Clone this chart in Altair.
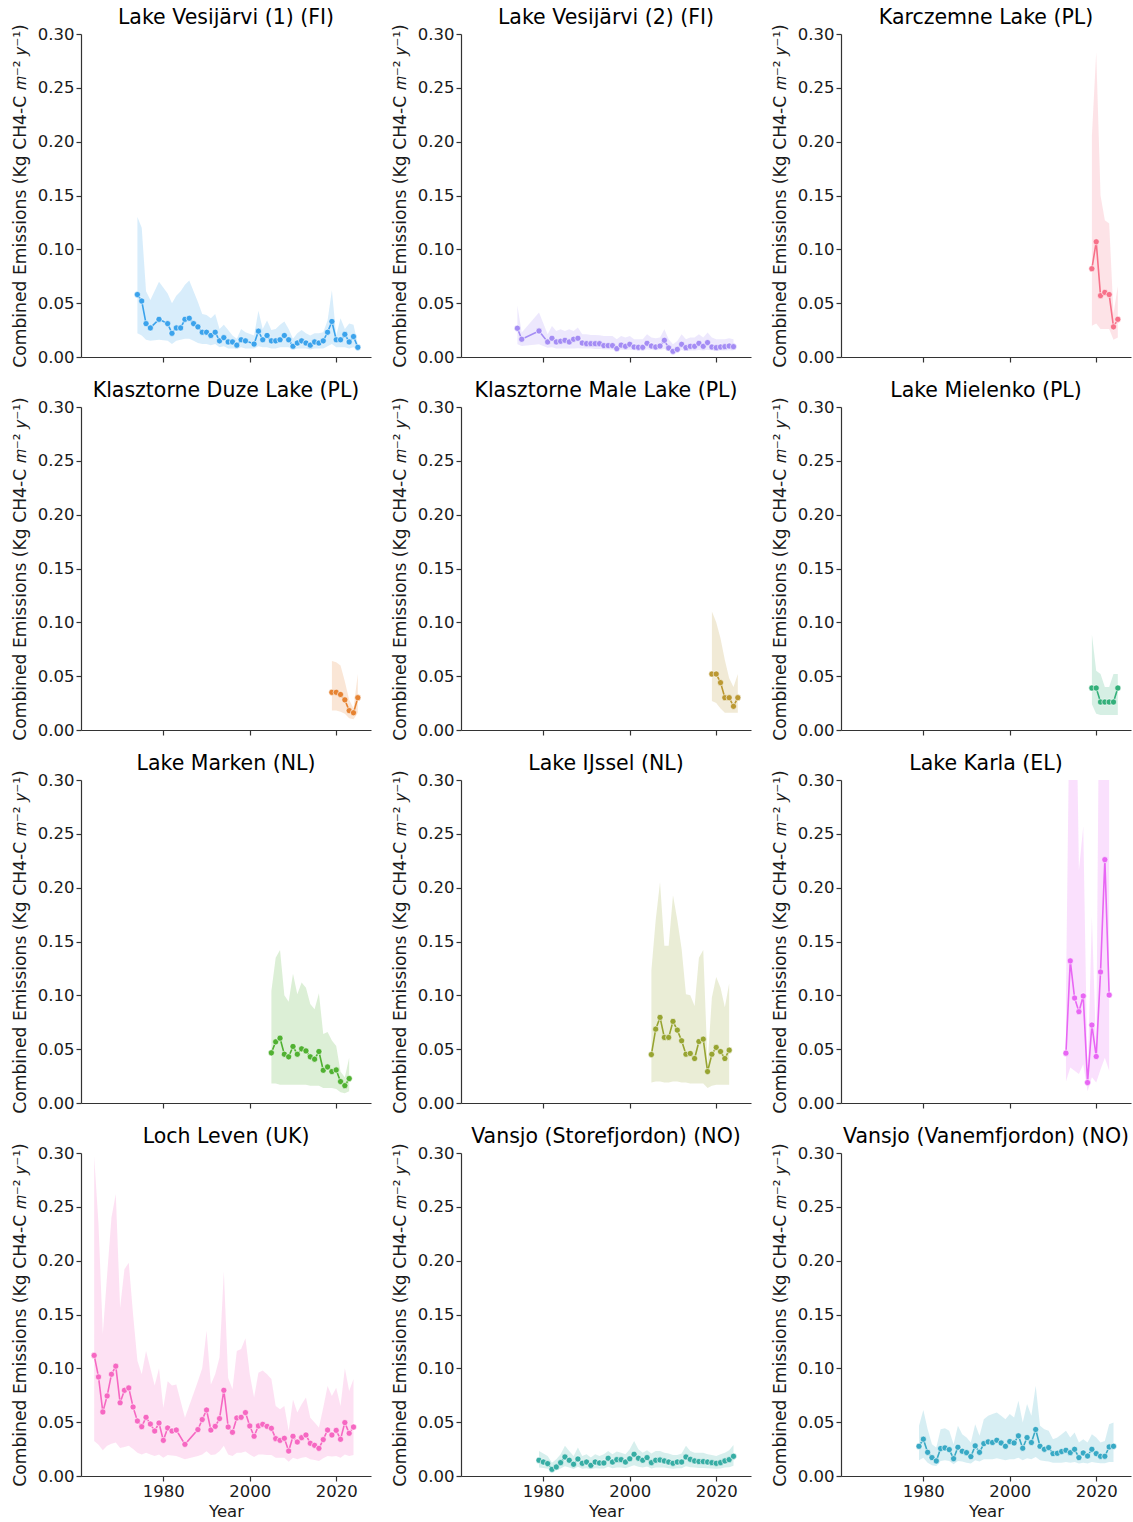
import altair as alt
import pandas as pd

FONT = "DejaVu Sans"

TITLES = [
    "Lake Vesijärvi (1) (FI)", "Lake Vesijärvi (2) (FI)", "Karczemne Lake (PL)",
    "Klasztorne Duze Lake (PL)", "Klasztorne Male Lake (PL)", "Lake Mielenko (PL)",
    "Lake Marken (NL)", "Lake IJssel (NL)", "Lake Karla (EL)",
    "Loch Leven (UK)", "Vansjo (Storefjordon) (NO)", "Vansjo (Vanemfjordon) (NO)",
]
COLORS = ["#3ba3ec", "#a48cf4", "#f77189", "#e68332", "#bb9832", "#33b07a",
          "#50b131", "#97a431", "#e866f4", "#f668c2", "#36ada4", "#38a9c5"]

X_TICKS = [1980, 2000, 2020]
Y_TICKS = [0.0, 0.05, 0.10, 0.15, 0.20, 0.25, 0.30]
Y_TITLE = "Combined Emissions (Kg CH4-C 𝑚⁻² 𝑦⁻¹)"

# 1 Lake Vesijärvi (1)
VES1_YEARS = [1974, 1975, 1976, 1977, 1979] + list(range(1981, 2000)) + list(range(2001, 2026))
VES1_MEAN = [0.058, 0.052, 0.031, 0.027, 0.035,
             0.031, 0.022, 0.027, 0.027, 0.035, 0.036, 0.031, 0.028, 0.023, 0.023,
             0.020, 0.023, 0.015, 0.018, 0.014, 0.014, 0.011, 0.016, 0.015,
             0.012, 0.024, 0.016, 0.020, 0.015, 0.015, 0.016, 0.020, 0.016, 0.010,
             0.013, 0.015, 0.013, 0.011, 0.014, 0.013, 0.015, 0.023, 0.033, 0.016,
             0.016, 0.021, 0.014, 0.019, 0.009]
VES1_HI = [0.130, 0.120, 0.061, 0.053, 0.070,
           0.059, 0.050, 0.057, 0.061, 0.067, 0.071, 0.061, 0.051, 0.040, 0.039,
           0.036, 0.040, 0.026, 0.030, 0.025, 0.020, 0.017, 0.026, 0.023,
           0.020, 0.043, 0.026, 0.034, 0.025, 0.026, 0.030, 0.033, 0.026, 0.017,
           0.022, 0.025, 0.022, 0.020, 0.022, 0.022, 0.023, 0.034, 0.062, 0.020,
           0.036, 0.026, 0.031, 0.030, 0.012]
VES1_LO = [0.022, 0.020, 0.016, 0.015, 0.016,
           0.015, 0.012, 0.015, 0.016, 0.017, 0.017, 0.015, 0.013, 0.012, 0.012,
           0.011, 0.012, 0.009, 0.010, 0.008, 0.008, 0.008, 0.009, 0.008,
           0.008, 0.010, 0.009, 0.009, 0.008, 0.008, 0.009, 0.009, 0.009, 0.007,
           0.008, 0.008, 0.008, 0.007, 0.008, 0.008, 0.008, 0.010, 0.012, 0.009,
           0.009, 0.009, 0.008, 0.009, 0.006]

# 2 Lake Vesijärvi (2)
VES2_YEARS = [1974, 1975, 1979] + list(range(1981, 2025))
VES2_MEAN = [0.0267, 0.0165, 0.0242,
             0.0140, 0.0174, 0.0140, 0.0146, 0.0155, 0.0140, 0.0165, 0.0174, 0.0130, 0.0124,
             0.0124, 0.0124, 0.0124, 0.0106, 0.0106, 0.0106, 0.0078, 0.0110, 0.0099, 0.0118,
             0.0093, 0.0090, 0.0090, 0.0127, 0.0102, 0.0093, 0.0102, 0.0155, 0.0084, 0.0053,
             0.0071, 0.0118, 0.0087, 0.0099, 0.0099, 0.0127, 0.0099, 0.0134, 0.0093, 0.0087,
             0.0093, 0.0096, 0.0102, 0.0096]
VES2_HI = [0.0475, 0.0227, 0.0413,
           0.0211, 0.0289, 0.0242, 0.0258, 0.0242, 0.0258, 0.0242, 0.0273, 0.0211, 0.0211,
           0.0205, 0.0205, 0.0202, 0.0196, 0.0196, 0.0196, 0.0165, 0.0196, 0.0180, 0.0196,
           0.0165, 0.0165, 0.0165, 0.0211, 0.0180, 0.0174, 0.0180, 0.0258, 0.0165, 0.0118,
           0.0149, 0.0211, 0.0165, 0.0180, 0.0180, 0.0211, 0.0180, 0.0227, 0.0180, 0.0165,
           0.0165, 0.0165, 0.0174, 0.0165]
VES2_LO = [0.0118, 0.0102, 0.0118,
           0.0087, 0.0090, 0.0080, 0.0080, 0.0080, 0.0080, 0.0080, 0.0082, 0.0078, 0.0078,
           0.0078, 0.0075, 0.0075, 0.0070, 0.0070, 0.0068, 0.0062, 0.0068, 0.0065, 0.0068,
           0.0062, 0.0062, 0.0062, 0.0070, 0.0065, 0.0062, 0.0065, 0.0075, 0.0056, 0.0031,
           0.0050, 0.0065, 0.0056, 0.0060, 0.0060, 0.0065, 0.0060, 0.0068, 0.0060, 0.0058,
           0.0060, 0.0060, 0.0062, 0.0060]

# 3 Karczemne
KAR_YEARS = list(range(2019, 2026))
KAR_MEAN = [0.082, 0.107, 0.057, 0.060, 0.058, 0.028, 0.035]
KAR_HI = [0.205, 0.283, 0.150, 0.127, 0.124, 0.040, 0.066]
KAR_LO = [0.029, 0.031, 0.026, 0.026, 0.026, 0.016, 0.018]

# 4 Klasztorne Duze
KDU_YEARS = list(range(2019, 2026))
KDU_MEAN = [0.035, 0.035, 0.033, 0.028, 0.018, 0.016, 0.030]
KDU_HI = [0.064, 0.063, 0.060, 0.045, 0.028, 0.020, 0.052]
KDU_LO = [0.018, 0.018, 0.017, 0.015, 0.011, 0.010, 0.016]

# 5 Klasztorne Male
KMA_YEARS = list(range(2019, 2026))
KMA_MEAN = [0.052, 0.052, 0.044, 0.030, 0.030, 0.022, 0.030]
KMA_HI = [0.110, 0.100, 0.085, 0.065, 0.048, 0.040, 0.052]
KMA_LO = [0.027, 0.025, 0.020, 0.016, 0.016, 0.016, 0.016]

# 6 Mielenko
MIE_YEARS = list(range(2019, 2026))
MIE_MEAN = [0.039, 0.039, 0.026, 0.026, 0.026, 0.026, 0.039]
MIE_HI = [0.089, 0.055, 0.052, 0.040, 0.040, 0.052, 0.052]
MIE_LO = [0.024, 0.015, 0.014, 0.014, 0.014, 0.014, 0.014]

# 7 Marken
MAR_YEARS = list(range(2005, 2024))
MAR_MEAN = [0.0466, 0.0568, 0.0602, 0.0453, 0.0429, 0.0525, 0.0453, 0.0503, 0.0484, 0.0429,
            0.0407, 0.0478, 0.0304, 0.0335, 0.0292, 0.0307, 0.0199, 0.0161, 0.0227]
MAR_HI = [0.104, 0.135, 0.142, 0.100, 0.094, 0.120, 0.101, 0.112, 0.107, 0.092,
          0.087, 0.102, 0.064, 0.066, 0.058, 0.053, 0.029, 0.024, 0.042]
MAR_LO = [0.018, 0.018, 0.017, 0.017, 0.017, 0.017, 0.017, 0.017, 0.017, 0.016,
          0.016, 0.016, 0.014, 0.014, 0.014, 0.013, 0.010, 0.009, 0.011]

# 8 IJssel
IJS_YEARS = list(range(2005, 2024))
IJS_MEAN = [0.0450, 0.0686, 0.0795, 0.0609, 0.0609, 0.0758, 0.0677, 0.0578, 0.0453, 0.0460,
            0.0413, 0.0571, 0.0593, 0.0292, 0.0453, 0.0516, 0.0478, 0.0413, 0.0491]
IJS_HI = [0.123, 0.170, 0.205, 0.146, 0.146, 0.193, 0.170, 0.143, 0.101, 0.100,
          0.090, 0.135, 0.142, 0.036, 0.098, 0.117, 0.107, 0.089, 0.111]
IJS_LO = [0.019, 0.020, 0.020, 0.019, 0.019, 0.020, 0.020, 0.019, 0.019, 0.018,
          0.018, 0.018, 0.018, 0.014, 0.016, 0.017, 0.017, 0.017, 0.017]

# 9 Karla
KRL_YEARS = list(range(2013, 2024))
KRL_MEAN = [0.0463, 0.132, 0.0975, 0.0848, 0.0994, 0.019, 0.0724, 0.0432, 0.1217, 0.226, 0.1003]
KRL_HI = [0.100, 0.430, 0.490, 0.216, 0.257, 0.022, 0.173, 0.047, 0.550, 0.700, 0.450]
KRL_LO = [0.020, 0.033, 0.030, 0.027, 0.036, 0.011, 0.024, 0.019, 0.031, 0.042, 0.030]

# 10 Loch Leven
LOC_YEARS = list(range(1964, 1984)) + [1985] + list(range(1988, 2025))
LOC_MEAN = [0.112, 0.092, 0.0595, 0.0744, 0.0945, 0.102, 0.068, 0.0796, 0.0818, 0.0641,
            0.0511, 0.0458, 0.0545, 0.0483, 0.0418, 0.0492, 0.0331, 0.0446, 0.0418, 0.0427,
            0.0294,
            0.0431, 0.0524, 0.0613, 0.0427, 0.0461, 0.0533, 0.0796, 0.0455, 0.0406, 0.0539,
            0.0545, 0.0589, 0.0465, 0.0369, 0.0465, 0.0480, 0.0461, 0.0443, 0.0347, 0.0331,
            0.0350, 0.0232, 0.0369, 0.0316, 0.0356, 0.0381, 0.0304, 0.0285, 0.0257, 0.0338,
            0.0427, 0.0381, 0.0424, 0.0341, 0.0496, 0.0397, 0.0455]
LOC_HI = [0.297, 0.234, 0.132, 0.187, 0.240, 0.262, 0.156, 0.192, 0.198, 0.150,
          0.107, 0.0945, 0.116, 0.100, 0.084, 0.100, 0.0635, 0.088, 0.084, 0.085,
          0.054,
          0.088, 0.100, 0.135, 0.085, 0.0945, 0.110, 0.190, 0.091, 0.0805, 0.116,
          0.118, 0.128, 0.0945, 0.073, 0.096, 0.098, 0.0945, 0.090, 0.065, 0.062,
          0.065, 0.0418, 0.071, 0.059, 0.0666, 0.0728, 0.054, 0.0496, 0.045, 0.0635,
          0.0836, 0.0743, 0.082, 0.065, 0.100, 0.079, 0.090]
LOC_LO = [0.0325, 0.029, 0.024, 0.028, 0.030, 0.031, 0.026, 0.027, 0.028, 0.025,
          0.0217, 0.020, 0.0217, 0.020, 0.0186, 0.020, 0.017, 0.0195, 0.019, 0.0186,
          0.0155,
          0.0186, 0.020, 0.023, 0.0195, 0.020, 0.023, 0.028, 0.020, 0.0186, 0.0217,
          0.0217, 0.0227, 0.020, 0.0177, 0.020, 0.020, 0.0195, 0.0195, 0.017, 0.017,
          0.017, 0.0133, 0.017, 0.0155, 0.017, 0.0177, 0.0155, 0.0149, 0.014, 0.0165,
          0.0186, 0.018, 0.0186, 0.017, 0.020, 0.0186, 0.0195]

# 11 Vansjo (Storefjordon)
STO_YEARS = list(range(1979, 2025))
STO_MEAN = [0.0146, 0.0130, 0.0115, 0.0062, 0.0084, 0.0124, 0.0177, 0.0146, 0.0109, 0.0158,
            0.0118, 0.0130, 0.0099, 0.0130, 0.0121, 0.0121, 0.0165, 0.0130, 0.0152, 0.0152,
            0.0130, 0.0160, 0.0202, 0.0165, 0.0146, 0.0171, 0.0124, 0.0146, 0.0149, 0.0140,
            0.0130, 0.0118, 0.0130, 0.0130, 0.0177, 0.0155, 0.0140, 0.0134, 0.0134, 0.0130,
            0.0124, 0.0118, 0.0124, 0.0140, 0.0152, 0.0183]
STO_HI = [0.0233, 0.0208, 0.0186, 0.0124, 0.0155, 0.0202, 0.0280, 0.0233, 0.0186, 0.0264,
          0.0186, 0.0202, 0.0171, 0.0202, 0.0186, 0.0202, 0.0233, 0.0202, 0.0227, 0.0217,
          0.0202, 0.0248, 0.0326, 0.0248, 0.0217, 0.0239, 0.0208, 0.0233, 0.0233, 0.0217,
          0.0208, 0.0196, 0.0196, 0.0208, 0.0280, 0.0233, 0.0217, 0.0217, 0.0217, 0.0202,
          0.0196, 0.0186, 0.0202, 0.0217, 0.0239, 0.0289]
STO_LO = [0.0080, 0.0075, 0.0068, 0.0047, 0.0050, 0.0070, 0.0090, 0.0080, 0.0065, 0.0085,
          0.0068, 0.0072, 0.0062, 0.0072, 0.0070, 0.0070, 0.0085, 0.0072, 0.0080, 0.0080,
          0.0072, 0.0085, 0.0100, 0.0085, 0.0080, 0.0088, 0.0070, 0.0080, 0.0080, 0.0078,
          0.0072, 0.0068, 0.0072, 0.0072, 0.0090, 0.0082, 0.0078, 0.0075, 0.0075, 0.0072,
          0.0070, 0.0068, 0.0070, 0.0078, 0.0082, 0.0095]

# 12 Vansjo (Vanemfjordon)
VAN_YEARS = list(range(1979, 2025))
VAN_MEAN = [0.0276, 0.0342, 0.0220, 0.0171, 0.0140, 0.0255, 0.0261, 0.0245, 0.0161, 0.0267,
            0.0230, 0.0217, 0.0180, 0.0280, 0.0220, 0.0301, 0.0317, 0.0311, 0.0332, 0.0307,
            0.0276, 0.0320, 0.0307, 0.0373, 0.0258, 0.0357, 0.0311, 0.0432, 0.0276, 0.0248,
            0.0264, 0.0208, 0.0211, 0.0227, 0.0239, 0.0217, 0.0248, 0.0171, 0.0214, 0.0186,
            0.0248, 0.0208, 0.0183, 0.0183, 0.0270, 0.0276]
VAN_HI = [0.0466, 0.0612, 0.0435, 0.0295, 0.0264, 0.0435, 0.0444, 0.0420, 0.0295, 0.0466,
          0.0388, 0.0357, 0.0310, 0.0480, 0.0373, 0.0528, 0.0560, 0.0575, 0.0590, 0.0560,
          0.0528, 0.0575, 0.0544, 0.0700, 0.0497, 0.0668, 0.0560, 0.0839, 0.0466, 0.0435,
          0.0420, 0.0342, 0.0357, 0.0388, 0.0420, 0.0357, 0.0404, 0.0310, 0.0342, 0.0310,
          0.0388, 0.0357, 0.0310, 0.0326, 0.0480, 0.0497]
VAN_LO = [0.0146, 0.0170, 0.0124, 0.0100, 0.0093, 0.0140, 0.0146, 0.0140, 0.0110, 0.0140,
          0.0134, 0.0124, 0.0115, 0.0146, 0.0134, 0.0155, 0.0155, 0.0155, 0.0165, 0.0155,
          0.0146, 0.0155, 0.0155, 0.0170, 0.0146, 0.0165, 0.0155, 0.0177, 0.0146, 0.0140,
          0.0134, 0.0124, 0.0124, 0.0124, 0.0130, 0.0124, 0.0130, 0.0115, 0.0124, 0.0115,
          0.0130, 0.0124, 0.0118, 0.0118, 0.0130, 0.0130]

SERIES = [
    (VES1_YEARS, VES1_MEAN, VES1_LO, VES1_HI),
    (VES2_YEARS, VES2_MEAN, VES2_LO, VES2_HI),
    (KAR_YEARS, KAR_MEAN, KAR_LO, KAR_HI),
    (KDU_YEARS, KDU_MEAN, KDU_LO, KDU_HI),
    (KMA_YEARS, KMA_MEAN, KMA_LO, KMA_HI),
    (MIE_YEARS, MIE_MEAN, MIE_LO, MIE_HI),
    (MAR_YEARS, MAR_MEAN, MAR_LO, MAR_HI),
    (IJS_YEARS, IJS_MEAN, IJS_LO, IJS_HI),
    (KRL_YEARS, KRL_MEAN, KRL_LO, KRL_HI),
    (LOC_YEARS, LOC_MEAN, LOC_LO, LOC_HI),
    (STO_YEARS, STO_MEAN, STO_LO, STO_HI),
    (VAN_YEARS, VAN_MEAN, VAN_LO, VAN_HI),
]

W, H = 290, 323
XS = alt.Scale(domain=[1960.95, 2028.05], nice=False, zero=False)
YS = alt.Scale(domain=[0, 0.30], nice=False, zero=True)


def make_panel(idx):
    years, mean, lo, hi = SERIES[idx]
    df = pd.DataFrame({"year": years, "mean": mean, "lo": lo, "hi": hi})
    bottom = idx >= 9
    color = COLORS[idx]
    xaxis_kw = dict(values=X_TICKS, format="d", labels=bottom, titlePadding=4)
    if bottom:
        xaxis_kw["title"] = "Year"
    else:
        xaxis_kw["title"] = ""
    xenc = alt.X("year:Q", scale=XS, axis=alt.Axis(**xaxis_kw))
    yaxis = alt.Axis(values=Y_TICKS, format=".2f", title=Y_TITLE, titlePadding=8,
                     titleFontSize=17.2)
    base = alt.Chart(df)
    band = base.mark_area(color=color, opacity=0.2, clip=True).encode(
        x=xenc, y=alt.Y("lo:Q", scale=YS, axis=yaxis), y2="hi:Q")
    line = base.mark_line(color=color, strokeWidth=1.6, clip=True).encode(
        x=xenc, y=alt.Y("mean:Q", scale=YS, axis=yaxis))
    pts = base.mark_circle(color=color, size=38, opacity=1, stroke="white",
                           strokeWidth=0.6, clip=True).encode(
        x=xenc, y=alt.Y("mean:Q", scale=YS, axis=yaxis))
    return alt.layer(band, line, pts).properties(
        width=W, height=H,
        title=alt.TitleParams(text=TITLES[idx], fontSize=20.5, font=FONT,
                              fontWeight="normal", offset=-5, anchor="middle",
                              color="#000000"))


panels = [make_panel(i) for i in range(12)]

chart = alt.concat(*panels, columns=3, spacing=alt.RowColnumber(row=50, column=90),
                   bounds="flush").properties(
    padding={"left": 11, "top": 8, "right": 2, "bottom": 2}).configure_view(
    stroke=None).configure_axis(
    grid=False, domainColor="#333333", domainWidth=1.2, tickColor="#333333",
    tickWidth=1.2, tickSize=5, labelFont=FONT, labelFontSize=16.5, labelColor="#1a1a1a",
    labelPadding=2, titleFont=FONT, titleFontSize=16.5, titleFontWeight="normal",
    titleColor="#1a1a1a")

chart.save("out.html", embed_options={"renderer": "svg", "actions": False})
